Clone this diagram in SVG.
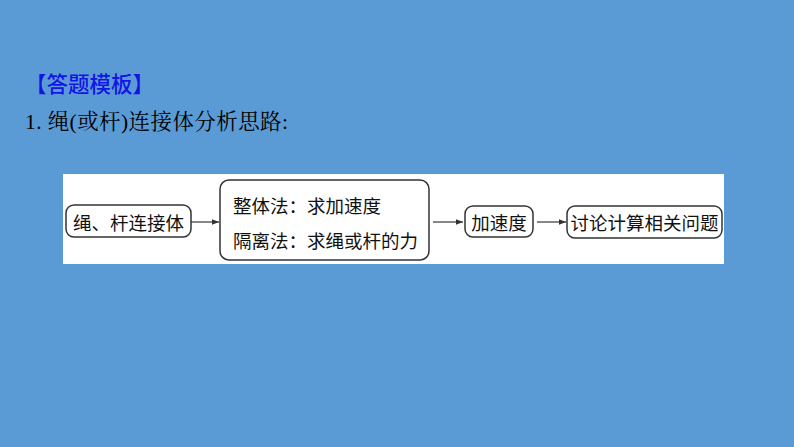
<svg xmlns="http://www.w3.org/2000/svg" width="794" height="447" viewBox="0 0 794 447">
<defs>
<style>
.box{fill:#fff;stroke:#333;stroke-width:1.5}
.t{font-family:"Noto Sans CJK SC","Noto Sans",sans-serif;font-size:18.5px;fill:#111;dominant-baseline:central}
.c{stroke:#444;stroke-width:1.3;fill:none}
</style>
<marker id="ah" viewBox="0 0 10 10" refX="10" refY="5" markerWidth="7" markerHeight="7" markerUnits="userSpaceOnUse" orient="auto">
<path d="M0,1 L10,5 L0,9 Z" fill="#333"/>
</marker>
</defs>
<rect x="0" y="0" width="794" height="447" fill="#5b9bd5"/>
<text x="25" y="82" font-family="Noto Sans CJK SC, sans-serif" font-size="21.5" font-weight="500" fill="#1414e6" dominant-baseline="central">【答题模板】</text>
<text x="25" y="122" font-family="'Liberation Serif','Noto Serif CJK SC','Noto Sans CJK SC',serif" font-size="21.5" fill="#000" dominant-baseline="central" textLength="263" lengthAdjust="spacing">1. 绳(或杆)连接体分析思路:</text>
<rect x="63" y="174" width="661" height="90" fill="#fff"/>
<g id="connectors">
<line class="c" x1="191" y1="222" x2="219" y2="222" marker-end="url(#ah)"/>
<line class="c" x1="433" y1="222" x2="463" y2="222" marker-end="url(#ah)"/>
<line class="c" x1="537" y1="222" x2="566" y2="222" marker-end="url(#ah)"/>
</g>
<g id="n1">
<rect class="box" x="66" y="205" width="125" height="32" rx="8"/>
<text class="t" x="128.5" y="222" text-anchor="middle">绳、杆连接体</text>
</g>
<g id="n2">
<rect class="box" x="220" y="180" width="209" height="80" rx="9"/>
<text class="t" x="233" y="205">整体法：求加速度</text>
<text class="t" x="233" y="240">隔离法：求绳或杆的力</text>
</g>
<g id="n3">
<rect class="box" x="465" y="206" width="68" height="31" rx="8"/>
<text class="t" x="499" y="222" text-anchor="middle">加速度</text>
</g>
<g id="n4">
<rect class="box" x="567" y="206" width="155" height="32" rx="8"/>
<text class="t" x="644.5" y="222" text-anchor="middle">讨论计算相关问题</text>
</g>
</svg>
